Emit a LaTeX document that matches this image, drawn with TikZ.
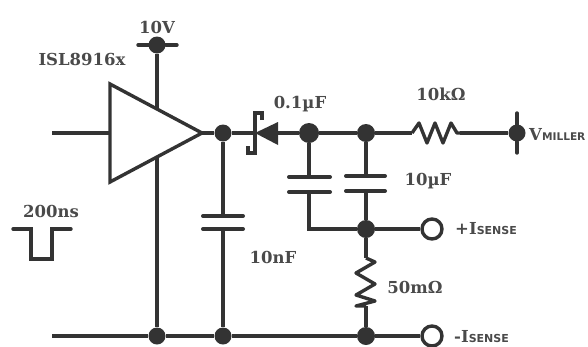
\documentclass[tikz,border=0pt]{standalone}
\usepackage{fontspec}
\setmainfont{DejaVu Serif}
\newfontfamily\subfont{DejaVu Sans}
\definecolor{wire}{HTML}{333333}
\definecolor{lbl}{HTML}{4A4A4A}
\newcommand{\subtxt}[1]{{\subfont\bfseries\fontsize{11}{12}\selectfont #1}}
\newcommand{\subtxtb}[1]{{\subfont\bfseries\fontsize{10.6}{12}\selectfont #1}}
\tikzset{
  wireline/.style={draw=wire,line width=3.4pt,line join=miter},
  plate/.style={draw=wire,line width=4pt,line cap=round},
  junction/.style={circle,fill=wire,draw=none,inner sep=0pt,minimum size=#1},
  junction/.default=16pt,
  terminal/.style={circle,draw=wire,line width=3.4pt,fill=white,inner sep=0pt,minimum size=20pt},
  lab/.style={text=lbl,font=\bfseries\fontsize{16.5}{19}\selectfont,inner sep=0pt}
}
\begin{document}
\begin{tikzpicture}[x=1pt,y=-1pt]
\useasboundingbox (0,0) rectangle (588,346);
% named points
\node[junction=17pt] (vcc) at (157,45) {};
\node[junction=17pt] (gnda) at (157,336) {};
\node[junction=17pt] (out) at (223,133) {};
\node[junction=17pt] (gndb) at (223,336) {};
\node[junction=20pt] (nodea) at (309,133) {};
\node[junction=18pt] (nodeb) at (366,133) {};
\node[junction=17pt] (vm) at (517,133) {};
\node[junction=18pt] (sense) at (366,229) {};
\node[junction=18pt] (gndc) at (366,336) {};
\coordinate (tipa) at (110,84);
\coordinate (tipb) at (110,182);
\coordinate (tipc) at (202,133);
\coordinate (inp) at (52,133);
\coordinate (gndl) at (52,336);
\coordinate (vcce) at (157,108);
\coordinate (gnde) at (157,158);
\coordinate (cat) at (255,133);
\coordinate (anode) at (278,133);
\coordinate (ra) at (412,133);
\coordinate (rb) at (460,133);
\coordinate (ca) at (309,177);
\coordinate (cb) at (309,192);
\coordinate (cc) at (366,176);
\coordinate (cd) at (366,191);
\coordinate (ce) at (223,216);
\coordinate (cf) at (223,229);
\coordinate (rc) at (366,258);
\coordinate (rd) at (366,306);
\coordinate (sj) at (309,229);
% wires
\draw[wireline] (vcc) -- (vcce);
\draw[wireline] (gnde) -- (gnda);
\draw[wireline] (inp) -- (tipa |- inp);
\draw[wireline] (tipc) -- (out);
\draw[wireline] (out) -- (cat);
\draw[wireline] (anode) -- (nodea) -- (nodeb) -- (ra);
\draw[wireline] (rb) -- (vm);
\draw[wireline] (out) -- (ce);
\draw[wireline] (cf) -- (gndb);
\draw[wireline] (nodea) -- (ca);
\draw[wireline] (cb) -- (sj) -- (sense);
\draw[wireline] (nodeb) -- (cc);
\draw[wireline] (cd) -- (sense);
\draw[wireline] (sense) -- (rc);
\draw[wireline] (rd) -- (gndc);
\draw[wireline] (gndl) -- (gnda) -- (gndb) -- (gndc);
% amplifier
\draw[wireline,miter limit=6] (tipa) -- (tipc) -- (tipb) -- cycle;
% bars
\draw[wireline,line cap=round] (138,45) -- (vcc) -- (177,45);
\draw[wireline,line cap=round] (517,113) -- (vm) -- (517,153);
% capacitors
\draw[plate] (289,177) -- (ca) -- (330,177);
\draw[plate] (289,192) -- (cb) -- (330,192);
\draw[plate] (346,176) -- (cc) -- (385,176);
\draw[plate] (346,191) -- (cd) -- (385,191);
\draw[plate] (203,216) -- (ce) -- (243,216);
\draw[plate] (203,229) -- (cf) -- (243,229);
% diode
\fill[wire] (255,133) -- (278,122) -- (278,145) -- cycle;
\draw[wireline] (262,120) -- (262,113) -- (255,113) -- (255,153) -- (248,153) -- (248,146);
% resistors
\draw[wireline,line join=round] (ra) -- (419,123) -- (427,143) -- (435,123) -- (443,143) -- (451,123) -- (457,133) -- (rb);
\draw[wireline,line join=round] (rc) -- (375,262) -- (356,273) -- (375,284) -- (356,295) -- (375,301) -- (356,306) -- (rd);
% terminals
\node[terminal] (tp) at (432,229) {};
\node[terminal] (tm) at (432,336) {};
\draw[wireline] (sense) -- (tp);
\draw[wireline] (gndc) -- (tm);
% pulse
\coordinate (pa) at (13,229);
\coordinate (pb) at (71,229);
\draw[wireline,line cap=round] (pa) -- (31,229) -- (31,259) -- (52,259) -- (52,229) -- (pb);
% labels
\node[lab] (l10v) at (157,27) {10V};
\node[lab] (lisl) at (82,59) {ISL8916x};
\node[lab] (l200) at (51,211) {200ns};
\node[lab] (l01) at (300,104) {0.1µF};
\node[lab] (l10k) at (441,94) {10kΩ};
\node[lab] (l10u) at (428,181) {10µF};
\node[lab] (l10n) at (273,257) {10nF};
\node[lab] (l50) at (415,287) {50mΩ};
\node[lab,anchor=west] (lvm) at (529,134) {V\subtxtb{MILLER}};
\node[lab,anchor=west] (lip) at (455,229) {+I\subtxt{SENSE}};
\node[lab,anchor=west] (lim) at (454,337) {-I\subtxt{SENSE}};
\end{tikzpicture}
\end{document}
